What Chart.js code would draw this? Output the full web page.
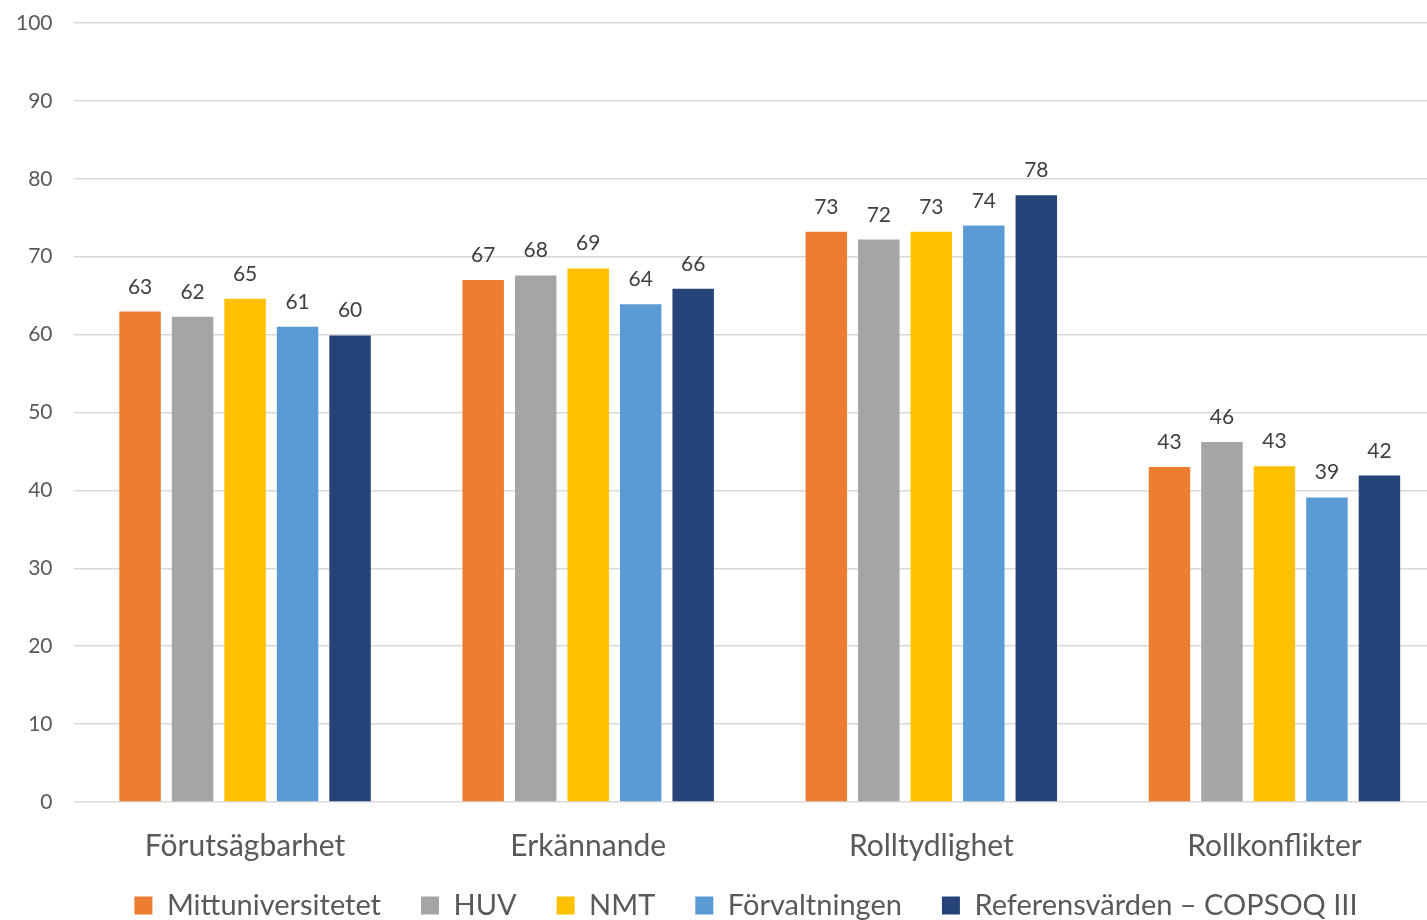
<!DOCTYPE html>
<html lang="sv">
<head>
<meta charset="utf-8">
<title>Förutsägbarhet, erkännande, rolltydlighet och rollkonflikter</title>
<script src="https://cdn.jsdelivr.net/npm/chart.js@4.4.1/dist/chart.umd.min.js"></script>
<style>
  html, body { margin: 0; padding: 0; background: #ffffff; overflow: hidden; }
  #wrap { width: 1446px; height: 951px; }
</style>
</head>
<body>
<div id="wrap"><canvas id="chart" width="1446" height="951"></canvas></div>
<script>
// Kategorier (x-axel)
const categories = ['Förutsägbarhet', 'Erkännande', 'Rolltydlighet', 'Rollkonflikter'];

// Medelvärden per grupp och kategori
const seriesMittuniversitetet = [62.95, 67.0, 73.2, 43.0];
const seriesHUV               = [62.3, 67.6, 72.2, 46.2];
const seriesNMT               = [64.6, 68.5, 73.2, 43.1];
const seriesForvaltningen     = [61.0, 63.9, 74.0, 39.1];
const seriesReferens          = [59.9, 65.9, 77.9, 41.9];

const seriesNames = ['Mittuniversitetet', 'HUV', 'NMT', 'Förvaltningen', 'Referensvärden – COPSOQ III'];
const seriesColors = ['#ED7D31', '#A5A5A5', '#FFC000', '#5B9BD5', '#264478'];

// Y-axelns skala
const yMin = 0;
const yMax = 100;
const yStep = 10;

const FONT = 'Lato, "Open Sans", sans-serif';
const TEXT = '#595959';

const seriesData = [seriesMittuniversitetet, seriesHUV, seriesNMT, seriesForvaltningen, seriesReferens];

// Värdeetiketter ovanför staplarna
const valueLabels = {
  id: 'valueLabels',
  afterDatasetsDraw(chart) {
    const ctx = chart.ctx;
    ctx.save();
    ctx.font = '21px ' + FONT;
    ctx.fillStyle = '#404040';
    ctx.textAlign = 'center';
    ctx.textBaseline = 'alphabetic';
    chart.data.datasets.forEach((ds, i) => {
      const meta = chart.getDatasetMeta(i);
      meta.data.forEach((bar, j) => {
        ctx.fillText(String(Math.round(ds.data[j])), bar.x, bar.y - 18);
      });
    });
    ctx.restore();
  }
};

// Flyttar förklaringen närmare axeln och något åt höger
const legendShift = {
  id: 'legendShift',
  afterLayout(chart) {
    const lg = chart.legend;
    if (lg) {
      lg.left += 23; lg.right += 23;
      lg.top -= 21; lg.bottom -= 21;
    }
  }
};

new Chart(document.getElementById('chart'), {
  type: 'bar',
  data: {
    labels: categories,
    datasets: seriesData.map((d, i) => ({
      label: seriesNames[i],
      data: d,
      backgroundColor: seriesColors[i],
      borderWidth: 0,
      categoryPercentage: 0.765,
      barPercentage: 0.79
    }))
  },
  options: {
    responsive: false,
    animation: false,
    devicePixelRatio: 1,
    layout: { padding: { top: 23, right: 0, left: 0, bottom: 0 } },
    scales: {
      x: {
        grid: { display: false },
        border: { display: false },
        ticks: { color: TEXT, font: { family: FONT, size: 30 }, padding: 18 },
        afterFit(scale) { scale.height = 70; }
      },
      y: {
        min: yMin,
        max: yMax,
        ticks: { stepSize: yStep, color: TEXT, font: { family: FONT, size: 21 }, padding: 21 },
        grid: { color: '#D9D9D9', lineWidth: 1.5, drawTicks: false },
        border: { display: false },
        afterFit(scale) {
          scale.width = 73.5;
          scale.paddingTop = 0;
          scale.paddingBottom = 0;
        }
      }
    },
    plugins: {
      legend: {
        position: 'bottom',
        labels: {
          color: TEXT,
          font: { family: FONT, size: 29 },
          boxWidth: 18,
          boxHeight: 18,
          padding: 40
        }
      },
      tooltip: { enabled: false }
    }
  },
  plugins: [valueLabels, legendShift]
});
</script>
</body>
</html>
